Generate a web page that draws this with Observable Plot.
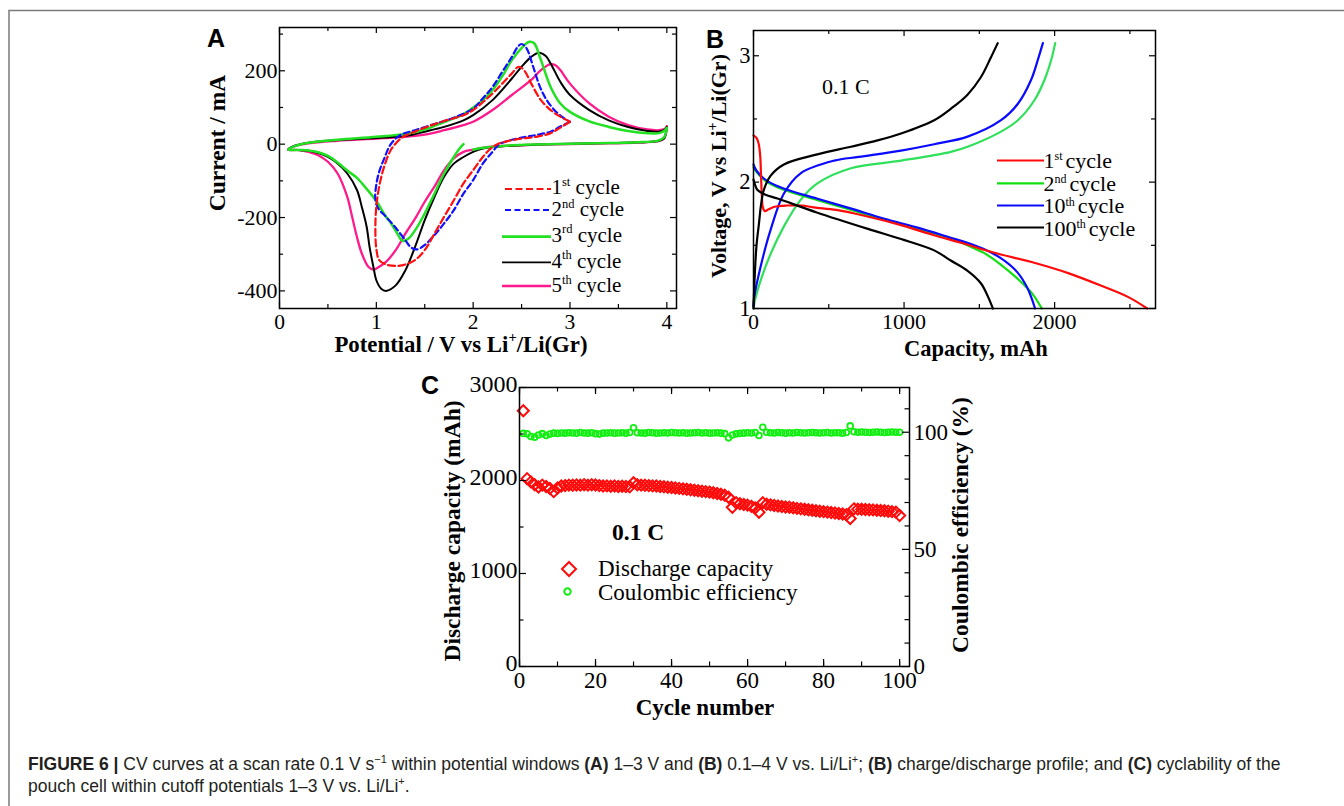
<!DOCTYPE html>
<html><head><meta charset="utf-8">
<script src="https://cdn.jsdelivr.net/npm/d3@7"></script>
<script src="https://cdn.jsdelivr.net/npm/@observablehq/plot@0.6"></script>
<style>
html,body{margin:0;padding:0;background:#fff;}
#fig{position:relative;width:1344px;height:806px;overflow:hidden;background:#fff;}
.panel{position:absolute;}
.panel svg{display:block;overflow:visible;}
#overlay{position:absolute;left:0;top:0;pointer-events:none;}
#caption{position:absolute;left:28px;top:753px;font-family:"Liberation Sans",Arial,sans-serif;font-size:17.5px;line-height:22px;white-space:nowrap;color:#231f20;}
#caption b{font-weight:bold;}
#caption sup{font-size:11px;line-height:0;vertical-align:7px;}
</style></head>
<body>
<div id="fig">
  <div id="pA" class="panel" style="left:200px;top:20px"></div>
  <div id="pB" class="panel" style="left:700px;top:20px"></div>
  <div id="pC" class="panel" style="left:440px;top:370px"></div>
  <svg id="overlay" width="1344" height="806"></svg>
  <div id="caption"><b>FIGURE 6 |</b> CV curves at a scan rate 0.1 V s<sup>−1</sup> within potential windows <b>(A)</b> 1–3 V and <b>(B)</b> 0.1–4 V vs. Li/Li<sup>+</sup>; <b>(B)</b> charge/discharge profile; and <b>(C)</b> cyclability of the<br>pouch cell within cutoff potentials 1–3 V vs. Li/Li<sup>+</sup>.</div>
</div>
<script>
// ---------- Panel A: CV curves [potential V, current mA] ----------
const cv1 = [[3.0,61],[2.9,45],[2.8,30],[2.65,20],[2.5,15],[2.35,8],[2.25,0],[2.18,-12],[2.1,-35],[2.0,-71],[1.9,-107],[1.8,-153],[1.7,-198],[1.6,-244],[1.5,-289],[1.4,-316],[1.3,-328],[1.2,-332],[1.1,-328],[1.03,-316],[1.0,-285],[0.99,-230],[1.0,-170],[1.03,-115],[1.08,-62],[1.15,-16],[1.25,15],[1.35,29],[1.5,45],[1.7,63],[1.9,79],[2.0,93],[2.2,138],[2.3,165],[2.4,193],[2.47,211],[2.53,200],[2.6,165],[2.7,120],[2.8,93],[2.9,75],[3.0,61]];
const cv2 = [[3.0,61],[2.9,48],[2.8,34],[2.65,25],[2.5,18],[2.35,8],[2.27,0],[2.2,-21],[2.1,-53],[2.0,-98],[1.9,-135],[1.8,-180],[1.7,-216],[1.6,-248],[1.5,-275],[1.42,-287],[1.36,-282],[1.3,-262],[1.2,-228],[1.1,-198],[1.02,-175],[0.99,-150],[1.0,-110],[1.03,-75],[1.08,-40],[1.15,0],[1.25,25],[1.4,38],[1.6,55],[1.8,72],[2.0,97],[2.1,125],[2.2,156],[2.3,197],[2.4,238],[2.46,265],[2.5,273],[2.55,262],[2.62,211],[2.69,156],[2.76,120],[2.85,90],[2.93,72],[3.0,61]];
const cv3 = [[1.9,0],[1.85,-15],[1.8,-35],[1.7,-80],[1.6,-135],[1.5,-189],[1.4,-235],[1.33,-258],[1.27,-264],[1.22,-245],[1.15,-215],[1.1,-198],[1.0,-155],[0.9,-122],[0.8,-92],[0.7,-72],[0.6,-50],[0.5,-32],[0.4,-22],[0.3,-17],[0.2,-16],[0.09,-15],[0.15,-6],[0.3,4],[0.6,12],[1.0,20],[1.3,28],[1.5,40],[1.7,60],[1.9,82],[2.0,100],[2.1,120],[2.2,147],[2.3,185],[2.4,229],[2.5,262],[2.58,279],[2.63,275],[2.7,229],[2.8,156],[2.9,111],[3.0,88],[3.2,62],[3.4,47],[3.6,36],[3.8,30],[3.92,30],[3.98,38],[4.0,45],[3.97,18],[3.9,9],[3.7,5],[3.4,3],[3.0,1],[2.6,-1],[2.3,-5],[2.1,-10],[2.0,-15]];
const cv4 = [[4.0,47],[3.97,15],[3.9,8],[3.7,5],[3.4,3],[3.0,1],[2.6,-2],[2.3,-6],[2.1,-12],[2.0,-21],[1.9,-35],[1.8,-53],[1.7,-89],[1.6,-144],[1.5,-207],[1.4,-280],[1.3,-344],[1.2,-385],[1.1,-400],[1.05,-394],[1.0,-371],[0.97,-335],[0.93,-280],[0.9,-225],[0.85,-171],[0.8,-125],[0.7,-80],[0.6,-53],[0.5,-35],[0.4,-24],[0.3,-18],[0.2,-16],[0.09,-15],[0.15,-5],[0.3,4],[0.6,11],[1.0,17],[1.3,22],[1.5,34],[1.7,47],[1.9,65],[2.0,79],[2.2,120],[2.4,179],[2.5,211],[2.6,238],[2.68,249],[2.75,240],[2.8,220],[2.9,170],[3.0,134],[3.2,93],[3.4,65],[3.6,47],[3.8,36],[3.92,34],[3.98,40],[4.0,47]];
const cv5 = [[4.0,49],[3.97,15],[3.9,8],[3.7,4],[3.4,2],[3.0,0],[2.6,-2],[2.3,-5],[2.1,-10],[2.0,-15],[1.9,-21],[1.8,-39],[1.7,-71],[1.6,-116],[1.5,-157],[1.4,-203],[1.3,-244],[1.2,-289],[1.1,-321],[1.0,-339],[0.97,-342],[0.92,-335],[0.85,-298],[0.8,-253],[0.75,-198],[0.7,-144],[0.6,-80],[0.5,-48],[0.4,-30],[0.3,-21],[0.2,-16],[0.09,-15],[0.15,-6],[0.3,2],[0.6,9],[1.0,15],[1.3,20],[1.5,26],[1.7,38],[1.9,52],[2.0,61],[2.2,93],[2.4,134],[2.6,175],[2.7,202],[2.8,218],[2.85,215],[2.9,202],[3.0,165],[3.2,111],[3.4,75],[3.6,52],[3.8,40],[3.92,38],[3.98,42],[4.0,49]];
const aXMajor = [0,1,2,3,4], aXMinor = [0.5,1.5,2.5,3.5];
const aYMajor = [-400,-200,0,200], aYMinor = [-300,-100,100,300];

// ---------- Panel B: charge/discharge [capacity mAh, voltage V] ----------
const b1Dis = [[0,2.37],[20,2.35],[35,2.3],[45,2.2],[50,2.05],[55,1.9],[62,1.8],[75,1.77],[100,1.785],[140,1.805],[220,1.815],[320,1.815],[400,1.8],[550,1.78],[750,1.73],[980,1.66],[1200,1.58],[1380,1.52],[1530,1.465],[1650,1.425],[1870,1.36],[2090,1.28],[2310,1.18],[2490,1.09],[2615,1.0]];
const b2Dis = [[0,2.12],[20,2.08],[90,2.0],[200,1.94],[420,1.86],[650,1.78],[870,1.7],[1090,1.63],[1310,1.555],[1420,1.5],[1530,1.44],[1640,1.35],[1750,1.24],[1850,1.12],[1915,1.0]];
const b10Dis = [[0,2.14],[20,2.09],[90,2.01],[200,1.95],[420,1.87],[650,1.79],[870,1.71],[1090,1.64],[1310,1.56],[1420,1.52],[1530,1.47],[1640,1.4],[1750,1.29],[1820,1.16],[1870,1.0]];
const b100Dis = [[0,2.02],[10,1.98],[25,1.94],[80,1.9],[160,1.87],[420,1.76],[760,1.63],[980,1.55],[1200,1.46],[1310,1.38],[1420,1.3],[1510,1.2],[1555,1.1],[1590,1.0]];
const b2Chg = [[0,1.0],[5,1.04],[47,1.22],[113,1.43],[202,1.65],[313,1.86],[424,1.99],[647,2.11],[980,2.17],[1311,2.24],[1422,2.28],[1644,2.4],[1756,2.49],[1867,2.65],[1933,2.81],[1978,2.97],[2004,3.1]];
const b10Chg = [[0,1.02],[5,1.09],[47,1.33],[113,1.62],[202,1.91],[313,2.07],[536,2.17],[700,2.2],[980,2.25],[1200,2.3],[1422,2.36],[1644,2.49],[1756,2.62],[1844,2.81],[1889,2.97],[1922,3.1]];
const b100Chg = [[0,1.0],[9,1.28],[20,1.5],[36,1.67],[50,1.82],[69,1.94],[113,2.05],[202,2.14],[424,2.22],[647,2.28],[824,2.33],[980,2.385],[1200,2.49],[1310,2.58],[1420,2.69],[1510,2.83],[1578,2.99],[1622,3.1]];
const bXMajor = [0,1000,2000], bXMinor = [500,1500,2500];
const bYMajor = [1,2,3], bYMinor = [1.5,2.5];

// ---------- Panel C: cyclability ----------
const cycles = d3.range(1, 101);
const discharge = [2750,2020,1985,1955,1930,1950,1935,1915,1880,1920,
 1940,1945,1950,1948,1952,1950,1955,1950,1955,1952,
 1945,1940,1942,1938,1940,1936,1938,1935,1932,1975,
 1955,1950,1948,1945,1942,1940,1936,1932,1928,1925,
 1920,1915,1910,1905,1900,1895,1890,1885,1880,1875,
 1868,1860,1852,1842,1820,1712,1760,1750,1742,1735,
 1722,1705,1659,1760,1745,1738,1732,1726,1720,1715,
 1712,1706,1700,1695,1690,1685,1680,1675,1670,1665,
 1660,1655,1650,1645,1640,1632,1592,1695,1692,1690,
 1688,1686,1684,1680,1677,1674,1670,1665,1660,1623];
const coulombic = [99.5,99.3,98.2,97.9,98.8,99.4,98.6,99.2,99.6,99.5,
 99.7,99.6,99.8,99.7,99.6,99.9,99.7,99.6,99.8,99.4,
 99.2,99.6,99.7,99.8,99.6,99.7,99.8,99.6,99.9,101.9,
 99.8,99.7,99.6,99.9,99.8,99.6,99.7,99.8,99.7,99.9,
 99.8,99.7,99.8,99.6,99.7,99.8,99.9,99.7,99.8,99.6,
 99.7,99.8,99.6,99.4,97.6,98.8,99.3,99.5,99.6,99.8,
 99.7,99.9,98.6,102.1,100.0,99.8,99.7,99.9,99.8,99.6,
 99.8,99.7,99.9,99.8,99.7,99.8,99.9,99.8,99.7,99.8,
 99.9,99.7,99.8,99.8,99.6,99.9,102.7,100.2,100.0,100.1,
 100.0,99.9,100.0,100.1,100.0,99.9,100.0,100.1,100.0,100.0];
const cXLabels = [0,20,40,60,80,100], cXTicks = [0,10,20,30,40,50,60,70,80,90,100];
const cYLabels = [0,1000,2000,3000], cYTicks = [500,1500,2500];
const ceLabels = [0,50,100], ceTicks = [10,20,30,40,60,70,80,90,110];

// ---------- helpers ----------
const serif = '"Liberation Serif","Times New Roman",serif';
function inward(xMaj, xMin, yMaj, yMin, fw, fh, lMaj, lMin) {
  const o = {stroke: "#000", strokeWidth: 1.2};
  return [
    Plot.ruleX(xMaj, {x: d => d, insetTop: fh - lMaj, ...o}),
    Plot.ruleX(xMaj, {x: d => d, insetBottom: fh - lMaj, ...o}),
    Plot.ruleX(xMin, {x: d => d, insetTop: fh - lMin, ...o}),
    Plot.ruleX(xMin, {x: d => d, insetBottom: fh - lMin, ...o}),
    Plot.ruleY(yMaj, {y: d => d, insetRight: fw - lMaj, ...o}),
    Plot.ruleY(yMaj, {y: d => d, insetLeft: fw - lMaj, ...o}),
    Plot.ruleY(yMin, {y: d => d, insetRight: fw - lMin, ...o}),
    Plot.ruleY(yMin, {y: d => d, insetLeft: fw - lMin, ...o})
  ];
}
const xy = {x: d => d[0], y: d => d[1], curve: "catmull-rom"};

// ---------- Panel A ----------
{
  const W = 490, H = 320, mL = 79, mR = 14, mT = 7, mB = 32;
  const fw = W - mL - mR, fh = H - mT - mB;
  const chart = Plot.plot({
    width: W, height: H, marginLeft: mL, marginRight: mR, marginTop: mT, marginBottom: mB,
    style: {fontFamily: serif, fontSize: "22px", color: "#000", background: "transparent", overflow: "visible"},
    x: {domain: [0, 4.1]},
    y: {domain: [-448, 318]},
    marks: [
      Plot.line(cv5, {...xy, stroke: "#ff1a8c", strokeWidth: 2.3}),
      Plot.line(cv4, {...xy, stroke: "#000", strokeWidth: 2}),
      Plot.line(cv3, {...xy, stroke: "#22e022", strokeWidth: 2.5}),
      Plot.line(cv2, {...xy, stroke: "#1010ff", strokeWidth: 2.2, strokeDasharray: "6,3.5"}),
      Plot.line(cv1, {...xy, stroke: "#ff1010", strokeWidth: 2.2, strokeDasharray: "7,3.5"}),
      ...inward(aXMajor, aXMinor, aYMajor, aYMinor, fw, fh, 6, 4),
      Plot.axisX({ticks: aXMajor, tickSize: 0, tickPadding: 5, fontSize: 21.5, tickFormat: d => String(d), label: null}),
      Plot.axisY({ticks: aYMajor, tickSize: 0, tickPadding: 2, fontSize: 22, tickFormat: d => String(d), label: null}),
      Plot.frame({stroke: "#000", strokeWidth: 1.5})
    ]
  });
  document.getElementById("pA").appendChild(chart);
}

// ---------- Panel B ----------
{
  const W = 470, H = 320, mL = 53, mR = 15, mT = 10, mB = 32;
  const fw = W - mL - mR, fh = H - mT - mB;
  const chart = Plot.plot({
    width: W, height: H, marginLeft: mL, marginRight: mR, marginTop: mT, marginBottom: mB,
    style: {fontFamily: serif, fontSize: "22px", color: "#000", background: "transparent", overflow: "visible"},
    x: {domain: [0, 2670]},
    y: {domain: [1, 3.2]},
    marks: [
      Plot.line(b2Chg, {...xy, stroke: "#2ee05a", strokeWidth: 2.2}),
      Plot.line(b2Dis, {...xy, stroke: "#10e010", strokeWidth: 2.2}),
      Plot.line(b10Chg, {...xy, stroke: "#0a0aff", strokeWidth: 2.2}),
      Plot.line(b10Dis, {...xy, stroke: "#0a0aff", strokeWidth: 2.2}),
      Plot.line(b1Dis, {...xy, stroke: "#ff0a0a", strokeWidth: 2.2}),
      Plot.line(b100Chg, {...xy, stroke: "#000", strokeWidth: 2.2}),
      Plot.line(b100Dis, {...xy, stroke: "#000", strokeWidth: 2.2}),
      ...inward(bXMajor, bXMinor, bYMajor, bYMinor, fw, fh, 6, 4),
      Plot.axisX({ticks: bXMajor, tickSize: 0, tickPadding: 5, fontSize: 22, tickFormat: d => String(d), label: null}),
      Plot.axisY({ticks: bYMajor, tickSize: 0, tickPadding: 3, fontSize: 22.5, tickFormat: d => String(d), label: null}),
      Plot.frame({stroke: "#000", strokeWidth: 1.5})
    ]
  });
  document.getElementById("pB").appendChild(chart);
}

// ---------- Panel C ----------
{
  const W = 510, H = 320, mL = 79, mR = 41, mT = 17, mB = 24;
  const fw = W - mL - mR, fh = H - mT - mB;
  const ceK = 25.19; // 1 % of Coulombic efficiency in capacity units (right axis)
  const capData = cycles.map((c, i) => ({cycle: c, cap: discharge[i]}));
  const ceData = cycles.map((c, i) => ({cycle: c, ce: coulombic[i] * ceK}));
  const o = {stroke: "#000", strokeWidth: 1.2};
  const chart = Plot.plot({
    width: W, height: H, marginLeft: mL, marginRight: mR, marginTop: mT, marginBottom: mB,
    style: {fontFamily: serif, fontSize: "22px", color: "#000", background: "transparent", overflow: "visible"},
    x: {domain: [0, 102.6]},
    y: {domain: [0, 3000]},
    marks: [
      Plot.dot(ceData, {x: "cycle", y: "ce", symbol: "circle", r: 2.9, stroke: "#10ee10", strokeWidth: 1.8, fill: "none"}),
      Plot.dot(capData, {x: "cycle", y: "cap", symbol: "diamond2", r: 5, stroke: "#ff0a0a", strokeWidth: 2, fill: "none"}),
      Plot.ruleX(cXLabels, {x: d => d, insetTop: fh - 7, ...o}),
      Plot.ruleX(cXLabels, {x: d => d, insetBottom: fh - 7, ...o}),
      Plot.ruleX(cXTicks, {x: d => d, insetTop: fh - 4.5, ...o}),
      Plot.ruleX(cXTicks, {x: d => d, insetBottom: fh - 4.5, ...o}),
      Plot.ruleY(cYLabels, {y: d => d, insetRight: fw - 7, ...o}),
      Plot.ruleY(cYTicks, {y: d => d, insetRight: fw - 4.5, ...o}),
      Plot.ruleY(ceLabels, {y: d => d * ceK, insetLeft: fw - 7, ...o}),
      Plot.ruleY(ceTicks, {y: d => d * ceK, insetLeft: fw - 4.5, ...o}),
      Plot.axisX({ticks: cXLabels, tickSize: 0, tickPadding: 5, fontSize: 23, tickFormat: d => String(d), label: null}),
      Plot.axisY({ticks: cYLabels, tickSize: 0, tickPadding: 2, fontSize: 24, dy: -3, tickFormat: d => String(d), label: null}),
      Plot.axisY({anchor: "right", ticks: ceLabels.map(v => v * ceK), tickSize: 0, tickPadding: 4, fontSize: 23, tickFormat: d => String(Math.round(d / ceK)), label: null}),
      Plot.frame({stroke: "#000", strokeWidth: 1.5})
    ]
  });
  document.getElementById("pC").appendChild(chart);
}

// ---------- Overlay: panel letters, axis titles, legends ----------
{
  const ns = "http://www.w3.org/2000/svg";
  const svg = document.getElementById("overlay");
  function el(tag, attrs, parent = svg) {
    const e = document.createElementNS(ns, tag);
    for (const k in attrs) e.setAttribute(k, attrs[k]);
    parent.appendChild(e);
    return e;
  }
  // figure border
  el("path", {d: "M9,806V10.5H1344", fill: "none", stroke: "#7a7a7a", "stroke-width": 1.5});
  // rich text: parts = [[text, sup?, dx?]]
  function rich(x, y, parts, size, supSize, opts = {}, rise = 0.42) {
    const t = el("text", {x, y, "font-family": serif, "font-size": size, fill: "#000", ...opts});
    let up = false;
    for (const [s, sup, dx] of parts) {
      const ts = document.createElementNS(ns, "tspan");
      if (sup && !up) { ts.setAttribute("dy", -rise * size); ts.setAttribute("font-size", supSize); up = true; }
      else if (!sup && up) { ts.setAttribute("dy", rise * size); up = false; }
      if (dx) ts.setAttribute("dx", dx);
      ts.textContent = s;
      t.appendChild(ts);
    }
    return t;
  }
  const bold = {"font-weight": "bold"};
  // panel letters
  for (const [s, x, y] of [["A", 207, 47], ["B", 706, 48], ["C", 421, 394]]) {
    const t = el("text", {x, y, "font-family": '"Liberation Sans",Arial,sans-serif', "font-size": 25, "font-weight": "bold", fill: "#000"});
    t.textContent = s;
  }
  // Panel A titles
  rich(0, 0, [["Current / mA"]], 23.5, 15, {...bold, "text-anchor": "middle", transform: "translate(225,143) rotate(-90)"});
  rich(461, 352, [["Potential / V vs Li"], ["+", true], ["/Li(Gr)"]], 22.8, 14.5, {...bold, "text-anchor": "middle"});
  // Panel B titles
  rich(0, 0, [["Voltage, V vs Li"], ["+", true], ["/Li(Gr)"]], 22, 14, {...bold, "text-anchor": "middle", transform: "translate(726,166) rotate(-90)"});
  rich(976, 356, [["Capacity, mAh"]], 22.5, 15, {...bold, "text-anchor": "middle"});
  rich(822, 94, [["0.1 C"]], 22, 14);
  // Panel C titles
  rich(0, 0, [["Discharge capacity (mAh)"]], 23.5, 15, {...bold, "text-anchor": "middle", transform: "translate(460,531) rotate(-90)"});
  rich(0, 0, [["Coulombic efficiency (%)"]], 23.5, 15, {...bold, "text-anchor": "middle", transform: "translate(968,525) rotate(-90)"});
  rich(705, 715, [["Cycle number"]], 23, 15, {...bold, "text-anchor": "middle"});
  rich(612, 540, [["0.1 C"]], 23.5, 15, bold);

  // Legend A
  const legA = [
    ["1", "st", "#ff1010", 2.2, "7,3.5", 189, 194.3, 505],
    ["2", "nd", "#1010ff", 2.2, "6,3.5", 210, 216, 505],
    ["3", "rd", "#22e022", 2.8, null, 236.7, 241.7, 502],
    ["4", "th", "#000", 1.8, null, 262.3, 267.7, 502],
    ["5", "th", "#ff1a8c", 2.5, null, 286, 292.3, 502]
  ];
  for (const [n, s, c, w, dash, ly, by, x0] of legA) {
    const a = {x1: x0, x2: 551, y1: ly, y2: ly, stroke: c, "stroke-width": w};
    if (dash) a["stroke-dasharray"] = dash;
    el("line", a);
    rich(551.5, by, [[n], [s, true], [" cycle"]], 21, 12.5, {}, 0.4);
  }
  // Legend B
  const legB = [
    ["1", "st", "#ff0a0a", 160.5, 167.5],
    ["2", "nd", "#10e010", 183.3, 190.5],
    ["10", "th", "#0a0aff", 205.5, 213],
    ["100", "th", "#000", 227.5, 235.5]
  ];
  for (const [n, s, c, ly, by] of legB) {
    el("line", {x1: 997, x2: 1044, y1: ly, y2: ly, stroke: c, "stroke-width": 2.2});
    rich(1043.5, by, [[n], [s, true], ["cycle", false, 3]], 22, 12, {}, 0.33);
  }
  // Legend C
  el("path", {d: "M569,562L576,569L569,576L562,569Z", fill: "none", stroke: "#ff0a0a", "stroke-width": 2});
  el("circle", {cx: 567.5, cy: 591.5, r: 3.2, fill: "none", stroke: "#10ee10", "stroke-width": 2});
  rich(598, 576.4, [["Discharge capacity"]], 23, 15);
  rich(598, 600, [["Coulombic efficiency"]], 23, 15);
}
</script>
</body></html>
